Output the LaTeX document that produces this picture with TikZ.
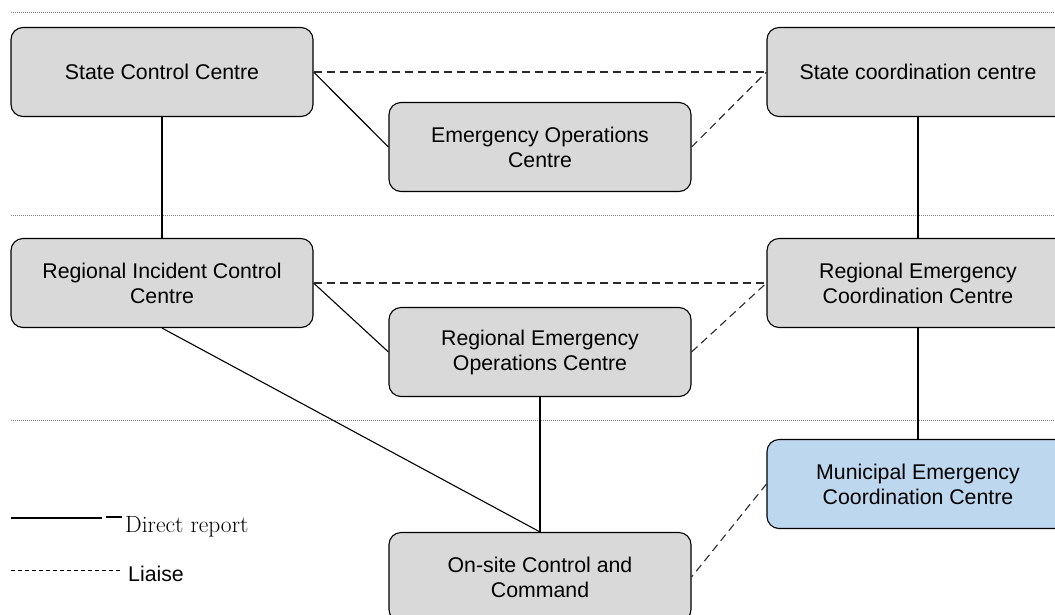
\documentclass[tikz,border=0pt]{standalone}
\usepackage{fontspec}
\newfontfamily\arialf{Liberation Sans}
\definecolor{boxgray}{HTML}{D9D9D9}
\definecolor{boxblue}{HTML}{BDD7EE}
\definecolor{dashgray}{HTML}{2A2A2A}
\tikzset{
  box/.style={draw=black, line width=1.1pt, rounded corners=12pt, fill=boxgray,
    minimum width=302pt, minimum height=89pt, align=center, inner sep=0pt,
    font=\arialf\fontsize{21.3}{25}\selectfont},
  bluebox/.style={box, fill=boxblue},
  direct/.style={draw=black, line width=1.1pt},
  liaise/.style={draw=dashgray, line width=1.1pt, dash pattern=on 8pt off 5pt},
  sep/.style={draw=gray, line width=0.6pt, dash pattern=on 1pt off 1pt},
}
\begin{document}
\begin{tikzpicture}[x=1pt,y=-1pt]
\useasboundingbox (0,0) rectangle (1055,614);
\clip (0,0) rectangle (1055,614);
% separators
\draw[sep] (11,12) -- (1055,12);
\draw[sep] (11,215) -- (1055,215);
\draw[sep] (11,420) -- (1055,420);
% nodes
\node[box] (scc) at (162,72) {State Control Centre};
\node[box] (stc) at (918,72) {State coordination centre};
\node[box] (eoc) at (540,147) {Emergency Operations\\Centre};
\node[box] (ricc) at (162,283) {Regional Incident Control\\Centre};
\node[box] (recc) at (918,283) {Regional Emergency\\Coordination Centre};
\node[box] (reoc) at (540,352) {Regional Emergency\\Operations Centre};
\node[bluebox] (mecc) at (918,484) {Municipal Emergency\\Coordination Centre};
\node[box] (osc) at (540,577) {On-site Control and\\Command};
% connectors
\draw[direct] (scc.east) -- (eoc.west);
\draw[liaise] (scc.east) -- (stc.west);
\draw[liaise] (eoc.east) -- (stc.west);
\draw[direct] (scc.south) -- (ricc.north);
\draw[direct] (stc.south) -- (recc.north);
\draw[direct] (ricc.east) -- (reoc.west);
\draw[liaise] (ricc.east) -- (recc.west);
\draw[liaise] (reoc.east) -- (recc.west);
\draw[direct] (ricc.south) -- (osc.north);
\draw[direct] (reoc.south) -- (osc.north);
\draw[direct] (recc.south) -- (mecc.north);
\draw[liaise] (mecc.west) -- (osc.east);
% legend
\coordinate (l1a) at (11,518);
\coordinate (l1b) at (102,518);
\coordinate (l1c) at (106,517);
\coordinate (l1d) at (122,517);
\coordinate (l2a) at (11,570);
\coordinate (l2b) at (122,570);
\draw[black, line width=1.1pt] (l1a) -- (l1b);
\draw[black, line width=1.1pt] (l1c) -- (l1d);
\draw[black, line width=0.8pt, dash pattern=on 4pt off 3pt] (l2a) -- (l2b);
\node[anchor=base west, inner sep=0pt, font=\rmfamily\fontsize{23.5}{26}\selectfont] (ldr) at (125,532) {Direct report};
\node[anchor=base west, inner sep=0pt, font=\arialf\fontsize{21.3}{25}\selectfont] (lli) at (128,581) {Liaise};
\end{tikzpicture}
\end{document}
